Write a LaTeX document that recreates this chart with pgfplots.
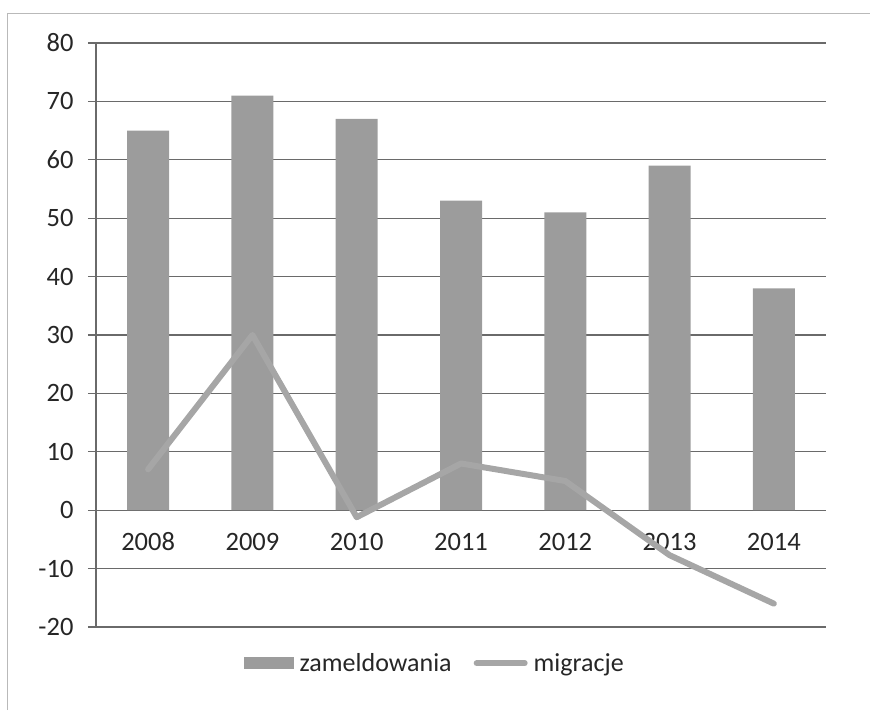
\documentclass[border=0pt]{standalone}
\usepackage{pgfplots}
\pgfplotsset{compat=1.18}
\usepackage{fontspec}
\setmainfont{Carlito}
\definecolor{barc}{HTML}{9C9C9C}
\definecolor{linec}{HTML}{A6A6A6}
\definecolor{gridc}{HTML}{6A6A6A}
\begin{document}
\begin{tikzpicture}[x=1pt,y=1pt]
\useasboundingbox (0,0) rectangle (870,710);
\draw[gray!55, line width=1pt] (7,0) -- (7,696) -- (870,696);
\begin{axis}[
  at={(96pt,83pt)}, anchor=south west,
  scale only axis, width=730pt, height=584pt,
  xmin=-0.5, xmax=6.5,
  ymin=-20, ymax=80,
  axis x line=middle, axis y line=left,
  axis line style={gridc, line width=1.3pt, -},
  xtick={0,1,2,3,4,5,6},
  xticklabels={2008,2009,2010,2011,2012,2013,2014},
  minor xtick={-0.5,0.5,1.5,2.5,3.5,4.5,5.5,6.5},
  x tick style={draw=none},
  minor x tick style={gridc, line width=1.3pt},
  minor tick length=8pt,
  ytick={-20,-10,0,10,20,30,40,50,60,70,80},
  yticklabels={-20,-10,0,10,20,30,40,50,60,70,80},
  y tick style={gridc, line width=1.3pt},
  major tick length=8pt,
  tick align=outside,
  ymajorgrids,
  grid style={gridc, line width=1.3pt},
  tick label style={font=\fontsize{26.5}{30}\selectfont, text=black!85},
  xticklabel style={anchor=north, yshift=-11pt, text height=18pt, text depth=0pt},
  yticklabel style={xshift=-11pt},
  legend style={at={(0.464,-0.062)}, anchor=center, draw=none, fill=none,
    legend columns=2, font=\fontsize{26}{30}\selectfont, text=black!85,
    /tikz/every odd column/.append style={column sep=4pt},
    /tikz/every even column/.append style={column sep=20pt}},
  clip=false,
]
\addplot[ybar, bar width=42pt, fill=barc, draw=none,
  area legend,
  legend image code/.code={\fill[barc] (0pt,-6pt) rectangle (50pt,6pt);}]
  coordinates {(0,65) (1,71) (2,67) (3,53) (4,51) (5,59) (6,38)};
\addlegendentry{zameldowania}
\addplot[linec, line width=6pt, line cap=round, line join=round, mark=none,
  legend image code/.code={\draw[linec, line width=6pt, line cap=round] (2pt,0pt) -- (50pt,0pt);}]
  coordinates {(0,7) (1,30) (2,-1.2) (3,8) (4,5) (5,-7.7) (6,-16)};
\addlegendentry{migracje}
\end{axis}
\end{tikzpicture}
\end{document}
